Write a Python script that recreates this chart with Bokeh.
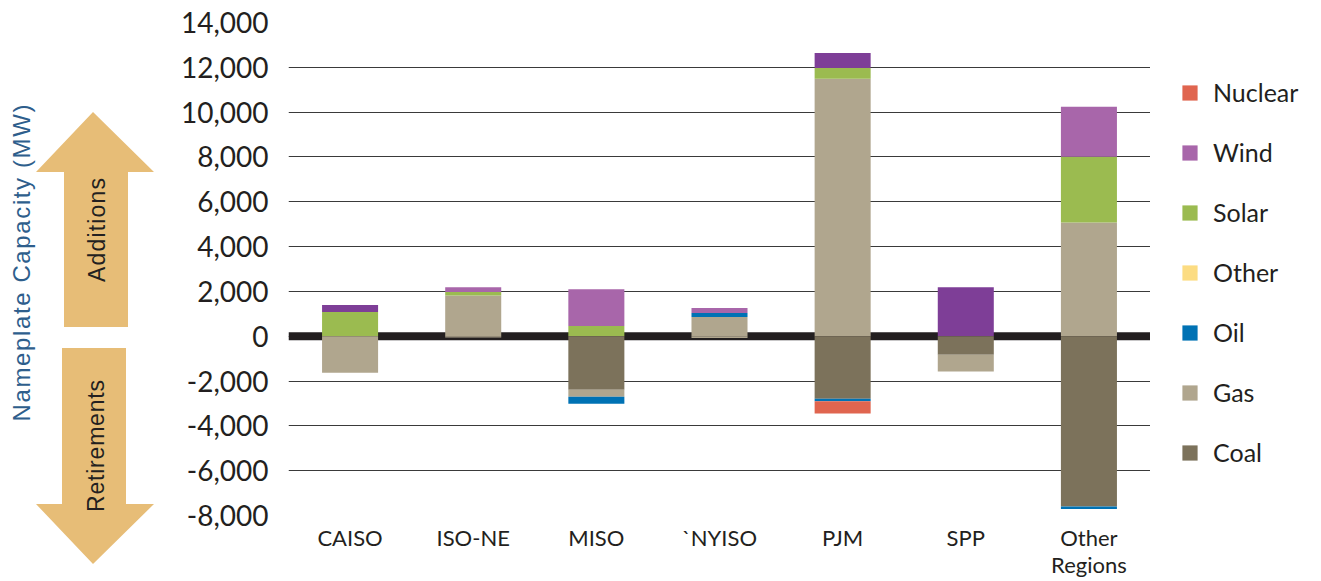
import numpy as np
from bokeh.plotting import figure
from bokeh.layouts import row
from bokeh.models import Range1d, FactorRange, Span, Legend, LegendItem, NumeralTickFormatter, FixedTicker, Div
from bokeh.embed import file_html
from bokeh.resources import INLINE

# ---------------- data (MW) ----------------
regions = ["CAISO", "ISO-NE", "MISO", "`NYISO", "PJM", "SPP", "Other\nRegions"]

# additions (positive), stacked bottom-up: Coal, Gas, Oil, Other, Solar, Wind, Nuclear
add_coal    = [0, 0, 0, 0, 0, 0, 0]
add_gas     = [0, 1820, 0, 860, 11490, 0, 5080]
add_oil     = [0, 0, 0, 180, 0, 0, 0]
add_other   = [0, 0, 0, 0, 0, 0, 0]
add_solar   = [1080, 150, 460, 0, 480, 0, 2930]
add_wind    = [310, 220, 1640, 220, 670, 2190, 2230]
add_nuclear = [0, 0, 0, 0, 0, 0, 0]

# retirements (negative), stacked downward from zero: Coal, Gas, Oil, Other, Nuclear
ret_coal    = [0, 0, -2390, 0, -2790, -830, -7600]
ret_gas     = [-1630, -60, -310, -80, 0, -740, 0]
ret_oil     = [0, 0, -310, 0, -110, 0, -110]
ret_other   = [0, 0, 0, 0, 0, 0, 0]
ret_nuclear = [0, 0, 0, 0, -550, 0, 0]

y_ticks = [-8000, -6000, -4000, -2000, 0, 2000, 4000, 6000, 8000, 10000, 12000, 14000]

legend_order = ["Nuclear", "Wind", "Solar", "Other", "Oil", "Gas", "Coal"]
colors = {
    "Nuclear": "#E0654F",
    "Wind": "#A866AA",
    "Solar": "#9BBB50",
    "Other": "#FCDC82",
    "Oil": "#0072B4",
    "Gas": "#B0A68E",
    "Coal": "#7C725B",
}
wind_dark = "#7E3E97"
wind_colors = [wind_dark, colors["Wind"], colors["Wind"], colors["Wind"], wind_dark, wind_dark, colors["Wind"]]

FONT = "Lato"
TXT = "#231F20"
ARROW = "#E7BD77"

# ---------------- left panel: axis title + arrows ----------------
left_svg = f"""
<svg xmlns="http://www.w3.org/2000/svg" width="170" height="581" style="display:block">
  <polygon points="93,112 154,172 128,172 128,327 64,327 64,172 36,172" fill="{ARROW}"/>
  <polygon points="62,348 126,348 126,504 154,504 93,564 36,504 62,504" fill="{ARROW}"/>
  <text x="97" y="230" transform="rotate(-90 97 230)" text-anchor="middle" dominant-baseline="central"
        font-family="{FONT}" font-size="23px" fill="{TXT}" textLength="104" lengthAdjust="spacing">Additions</text>
  <text x="96" y="446" transform="rotate(-90 96 446)" text-anchor="middle" dominant-baseline="central"
        font-family="{FONT}" font-size="23px" fill="{TXT}" textLength="132" lengthAdjust="spacing">Retirements</text>
  <text x="21" y="263" transform="rotate(-90 21 263)" text-anchor="middle" dominant-baseline="central"
        font-family="{FONT}" font-size="24px" fill="#2E5E8C" textLength="317" lengthAdjust="spacing">Nameplate Capacity (MW)</text>
</svg>
"""
lp = Div(text=left_svg, width=170, height=581, styles={"margin": "0", "padding": "0"})

# ---------------- main chart ----------------
p = figure(width=980, height=581, x_range=FactorRange(*regions, range_padding=0),
           y_range=Range1d(-8000, 14000), output_backend="svg", toolbar_location=None,
           min_border_left=118, min_border_right=0, min_border_top=22, min_border_bottom=66,
           outline_line_color=None)
p.xgrid.visible = False
p.ygrid.grid_line_color = "#3A3A3A"
p.ygrid.grid_line_width = 1.2
p.ygrid.ticker = FixedTicker(ticks=y_ticks)

p.yaxis.ticker = FixedTicker(ticks=y_ticks)
p.yaxis.formatter = NumeralTickFormatter(format="0,0")
p.yaxis.axis_line_color = None
p.yaxis.major_tick_line_color = None
p.yaxis.minor_tick_line_color = None
p.yaxis.major_tick_out = 0
p.yaxis.major_label_standoff = 20
p.yaxis.major_label_text_font = FONT
p.yaxis.major_label_text_font_size = "28px"
p.yaxis.major_label_text_color = TXT

p.xaxis.axis_line_color = None
p.xaxis.major_tick_line_color = None
p.xaxis.major_tick_out = 0
p.xaxis.major_label_standoff = 8
p.xaxis.major_label_text_font = FONT
p.xaxis.major_label_text_font_size = "22px"
p.xaxis.major_label_text_line_height = 1.0
p.xaxis.major_label_text_color = TXT

zero = Span(location=0, dimension="width", line_color=TXT, line_width=8, level="underlay")
p.add_layout(zero)

W = 0.455

def draw(vals, color, base):
    vals = np.array(vals, dtype=float)
    top = base + vals
    p.vbar(x=regions, bottom=base, top=top, width=W, fill_color=color, line_color=None)
    return top

base = np.zeros(len(regions))
for name, vals in [("Coal", add_coal), ("Gas", add_gas), ("Oil", add_oil), ("Other", add_other),
                   ("Solar", add_solar)]:
    base = draw(vals, colors[name], base)
base = draw(add_wind, wind_colors, base)
base = draw(add_nuclear, colors["Nuclear"], base)

base = np.zeros(len(regions))
for name, vals in [("Coal", ret_coal), ("Gas", ret_gas), ("Oil", ret_oil), ("Other", ret_other),
                   ("Nuclear", ret_nuclear)]:
    base = draw(vals, colors[name], base)

# ---------------- legend panel ----------------
lg = figure(width=171, height=581, x_range=Range1d(0, 1), y_range=Range1d(0, 1),
            output_backend="svg", toolbar_location=None, x_axis_type=None, y_axis_type=None,
            min_border_left=0, min_border_right=0, min_border_top=22, min_border_bottom=66,
            outline_line_color=None)
lg.grid.visible = False
items = []
for name in legend_order:
    proxy = lg.vbar(x=[0], bottom=[0], top=[0], width=0, fill_color=colors[name], line_color=None)
    items.append(LegendItem(label=name, renderers=[proxy]))

legend = Legend(items=items, location=(30, 48), orientation="vertical",
                glyph_width=19, glyph_height=19, label_height=19, spacing=30, padding=0, margin=0,
                label_standoff=14, label_text_font=FONT, label_text_font_size="25px",
                label_text_color=TXT, border_line_color=None, background_fill_alpha=0)
lg.add_layout(legend, "center")

layout = row(lp, p, lg)
open("out.html", "w").write(file_html(layout, INLINE))
